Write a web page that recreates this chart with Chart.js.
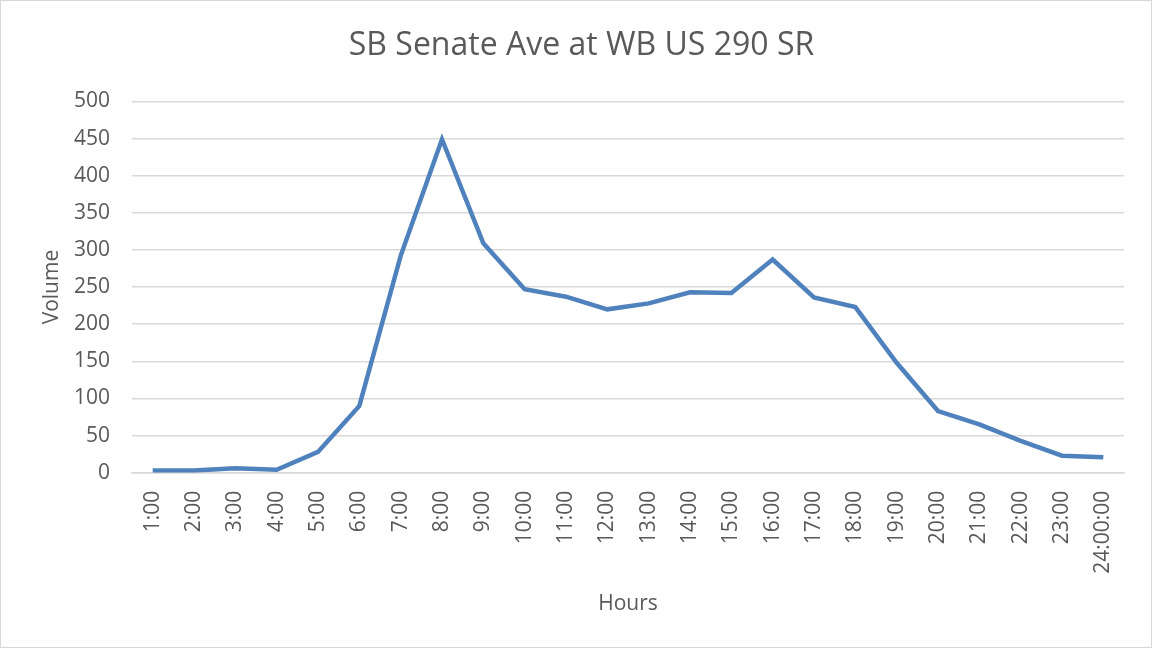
<!DOCTYPE html>
<html lang="en">
<head>
    <meta charset="UTF-8">
    <title>SB Senate Ave at WB US 290 SR</title>
    <style>
        body {
            margin: 0;
            padding: 0;
            background: #fff;
        }

        .chart-box {
            position: relative;
            width: 1150px;
            height: 646px;
            border: 1px solid #d9d9d9;
        }
    </style>
</head>
<body>
    <div class="chart-box">
        <canvas id="volumeChart"></canvas>
    </div>
    <script src="https://cdn.jsdelivr.net/npm/chart.js"></script>
    <script>
        const hours = ['1:00', '2:00', '3:00', '4:00', '5:00', '6:00', '7:00', '8:00', '9:00', '10:00',
            '11:00', '12:00', '13:00', '14:00', '15:00', '16:00', '17:00', '18:00', '19:00', '20:00',
            '21:00', '22:00', '23:00', '24:00:00'];
        const volume = [3, 3, 6, 4, 28, 90, 292, 449, 309, 247, 237, 220, 228, 243, 242, 287, 236, 223,
            148, 83, 65, 43, 23, 21];

        const textColor = '#595959';
        const font = "'Open Sans', 'Liberation Sans', sans-serif";

        new Chart(document.getElementById('volumeChart'), {
            type: 'line',
            data: {
                labels: hours,
                datasets: [{
                    label: 'Volume',
                    data: volume,
                    borderColor: '#4F81BD',
                    borderWidth: 4.5,
                    pointRadius: 0,
                    tension: 0,
                    fill: false
                }]
            },
            options: {
                responsive: true,
                maintainAspectRatio: false,
                animation: false,
                layout: {
                    padding: { left: 38, right: 27, top: 26, bottom: 30 }
                },
                plugins: {
                    legend: { display: false },
                    tooltip: { enabled: false },
                    title: {
                        display: true,
                        text: 'SB Senate Ave at WB US 290 SR',
                        color: textColor,
                        font: { family: font, size: 32, weight: 'normal' },
                        padding: { top: 0, bottom: 36 }
                    }
                },
                scales: {
                    x: {
                        offset: true,
                        grid: { display: false, drawTicks: false },
                        border: { color: '#d9d9d9', width: 1.5 },
                        ticks: {
                            color: textColor,
                            font: { family: font, size: 21 },
                            minRotation: 90,
                            maxRotation: 90,
                            autoSkip: false,
                            padding: 18
                        },
                        title: {
                            display: true,
                            text: 'Hours',
                            color: textColor,
                            font: { family: font, size: 21 },
                            padding: { top: 0, bottom: 0 }
                        }
                    },
                    y: {
                        min: 0,
                        max: 500,
                        // fixed axis width so the plot starts where the labels need it
                        afterFit: (scale) => { scale.width = 93; },
                        ticks: {
                            stepSize: 50,
                            color: textColor,
                            font: { family: font, size: 21 },
                            padding: 22
                        },
                        grid: { color: '#d9d9d9', lineWidth: 1.5, drawTicks: false },
                        border: { display: false },
                        title: {
                            display: true,
                            text: 'Volume',
                            color: textColor,
                            font: { family: font, size: 21 },
                            padding: { top: 0, bottom: 0 }
                        }
                    }
                }
            }
        });
    </script>
</body>
</html>
